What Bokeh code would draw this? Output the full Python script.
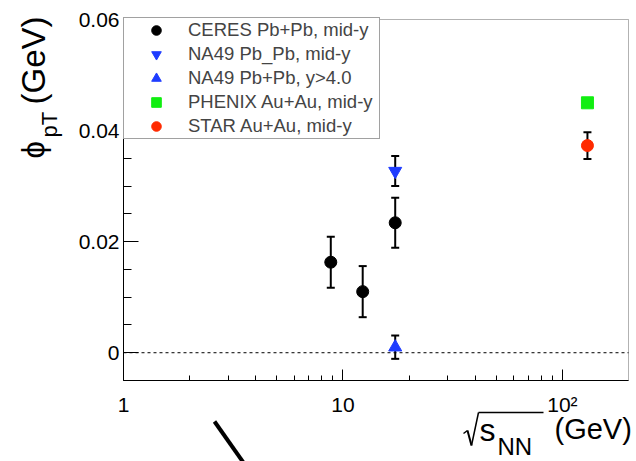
import math
from bokeh.plotting import figure
from bokeh.models import (ColumnDataSource, Whisker, TeeHead, Label, Arrow, BoxAnnotation,
                          FixedTicker, Legend, LegendItem, Range1d)
from bokeh.embed import file_html
from bokeh.resources import INLINE

# ---------------- data ----------------
ceres_x = [8.8, 12.3, 17.3]
ceres_y = [0.0163, 0.0110, 0.0234]
ceres_err = [0.0046, 0.0046, 0.0045]

na49_mid_x = [17.3]
na49_mid_y = [0.0327]
na49_mid_err = [0.0027]

na49_fwd_x = [17.3]
na49_fwd_y = [0.0010]
na49_fwd_err = [0.0021]

phenix_x = [130.0]
phenix_y = [0.0450]

star_x = [130.0]
star_y = [0.0373]
star_err = [0.0024]

legend_labels = ["CERES Pb+Pb, mid-y", "NA49 Pb_Pb, mid-y", "NA49 Pb+Pb, y>4.0",
                 "PHENIX Au+Au, mid-y", "STAR Au+Au, mid-y"]

x_ticks = [1, 10, 100]
x_tick_labels = ["1", "10", "10\u00b2"]
x_minor = [2, 3, 4, 5, 6, 7, 8, 9, 20, 30, 40, 50, 60, 70, 80, 90]
y_ticks = [0, 0.02, 0.04, 0.06]
y_tick_labels = ["0", "0.02", "0.04", "0.06"]
y_minor = [-0.005, 0.005, 0.01, 0.015, 0.025, 0.03, 0.035, 0.045, 0.05, 0.055]

# axis limits (the plotted box)
X_LO, X_HI = 1.0, 200.0
Y_LO, Y_HI = -0.005, 0.06

# ---------------- layout (pixels) ----------------
W, H = 636, 461
FL, FR, FT, FB = 123, 628, 19, 380      # edges of the plotted box on the canvas
FONT = "Liberation Sans"
BLUE = "#1e3cff"
GREEN = "#11ee11"
RED = "#ff2a00"

dec = (FR - FL) / math.log10(X_HI / X_LO)
xr = Range1d(X_LO * 10 ** (-FL / dec), X_HI * 10 ** ((W - FR) / dec))
ypx = (FB - FT) / (Y_HI - Y_LO)
yr = Range1d(Y_LO - (H - FB) / ypx, Y_HI + FT / ypx)

p = figure(width=W, height=H, x_axis_type="log", x_range=xr, y_range=yr,
           output_backend="svg", toolbar_location=None,
           min_border=0, min_border_left=0, min_border_right=0,
           min_border_top=0, min_border_bottom=0)
p.xgrid.visible = False
p.ygrid.visible = False
p.outline_line_color = None
p.background_fill_color = "white"
p.border_fill_color = "white"

# axes, pinned to the edges of the plotted box
p.xaxis.fixed_location = Y_LO
p.xaxis.bounds = (X_LO, X_HI)
p.yaxis.fixed_location = X_LO
p.yaxis.bounds = (Y_LO, Y_HI)
p.xaxis.ticker = FixedTicker(ticks=x_ticks, minor_ticks=x_minor)
p.xaxis.major_label_overrides = dict(zip(x_ticks, x_tick_labels))
p.yaxis.ticker = FixedTicker(ticks=y_ticks, minor_ticks=y_minor)
p.yaxis.major_label_overrides = dict(zip(y_ticks, y_tick_labels))
for ax in (p.xaxis[0], p.yaxis[0]):
    ax.axis_line_color = "black"
    ax.major_tick_line_color = "black"
    ax.minor_tick_line_color = "black"
    ax.major_tick_out = 0
    ax.minor_tick_out = 0
    ax.major_label_text_font = FONT
    ax.major_label_text_font_size = "21px"
    ax.major_label_text_color = "black"
p.xaxis.major_tick_in = 11
p.xaxis.minor_tick_in = 5
p.xaxis.major_label_standoff = 12
p.yaxis.major_tick_in = 15
p.yaxis.minor_tick_in = 8
p.yaxis.major_label_standoff = 4

# box around the plotted area
p.add_layout(BoxAnnotation(left=X_LO, right=X_HI, bottom=Y_LO, top=Y_HI,
                           fill_alpha=0, line_color="black", line_width=1, level="underlay"))

# zero line
p.segment(x0=[X_LO], y0=[0], x1=[X_HI], y1=[0], line_color="black",
          line_width=1, line_dash="3 3")

# error bars
def add_err(xs, ys, es):
    src = ColumnDataSource(dict(x=xs, lower=[y - e for y, e in zip(ys, es)],
                                upper=[y + e for y, e in zip(ys, es)]))
    p.add_layout(Whisker(base="x", lower="lower", upper="upper", source=src,
                         dimension="height", line_color="black", line_width=2,
                         level="underlay",
                         upper_head=TeeHead(size=8, line_width=2, line_color="black"),
                         lower_head=TeeHead(size=8, line_width=2, line_color="black")))

add_err(ceres_x, ceres_y, ceres_err)
add_err(na49_mid_x, na49_mid_y, na49_mid_err)
add_err(na49_fwd_x, na49_fwd_y, na49_fwd_err)
add_err(star_x, star_y, star_err)

r1 = p.scatter(ceres_x, ceres_y, marker="circle", size=12, color="black")
r2 = p.scatter(na49_mid_x, na49_mid_y, marker="inverted_triangle", size=13, color=BLUE)
r3 = p.scatter(na49_fwd_x, na49_fwd_y, marker="triangle", size=13, color=BLUE)
r4 = p.scatter(phenix_x, phenix_y, marker="square", size=12, color=GREEN)
r5 = p.scatter(star_x, star_y, marker="circle", size=12, color=RED)

ROW = 24
legend = Legend(items=[LegendItem(label=l, renderers=[r]) for l, r in
                       zip(legend_labels, [r1, r2, r3, r4, r5])],
                location=(FL, H - FT - ROW * len(legend_labels)), margin=0, padding=0,
                spacing=0, label_height=ROW, glyph_height=ROW, glyph_width=64,
                label_standoff=0, label_width=191, label_text_font=FONT,
                label_text_font_size="18.5px",
                border_line_color="#444444", border_line_width=1,
                background_fill_color="white", background_fill_alpha=1.0)
p.add_layout(legend)

# ---------- titles (window px -> screen units from bottom-left) ----------
def lab(text, xw, yw, size, angle=0.0):
    p.add_layout(Label(x=xw, y=H - yw, x_units="screen", y_units="screen",
                       text=text, angle=angle, text_align="left", text_baseline="alphabetic",
                       text_font=FONT, text_font_size=size, text_color="black"))

def seg(x0, y0, x1, y1, w):
    p.add_layout(Arrow(end=None, x_start=x0, y_start=H - y0, x_end=x1, y_end=H - y1,
                       start_units="screen", end_units="screen",
                       line_color="black", line_width=w))

# y title: phi_pT (GeV)
lab("\u03d5", 33, 158, "31px", math.pi / 2)
lab("pT", 49, 137, "22px", math.pi / 2)
lab("(GeV)", 33, 104, "33px", math.pi / 2)

# x title: sqrt(s_NN) (GeV)
seg(463, 433, 467, 430, 1.5)
seg(467, 430, 471, 445, 2)
seg(471, 445, 478, 412, 1.5)
seg(478, 412, 543, 412, 1.5)
lab("s", 479, 429, "32px")
lab("NN", 497, 446, "24px")
lab("(GeV)", 554, 428, "29px")

# stray stroke present in the reference image
seg(214, 421, 245, 465, 4)

open("out.html", "w").write(file_html(p, INLINE))
